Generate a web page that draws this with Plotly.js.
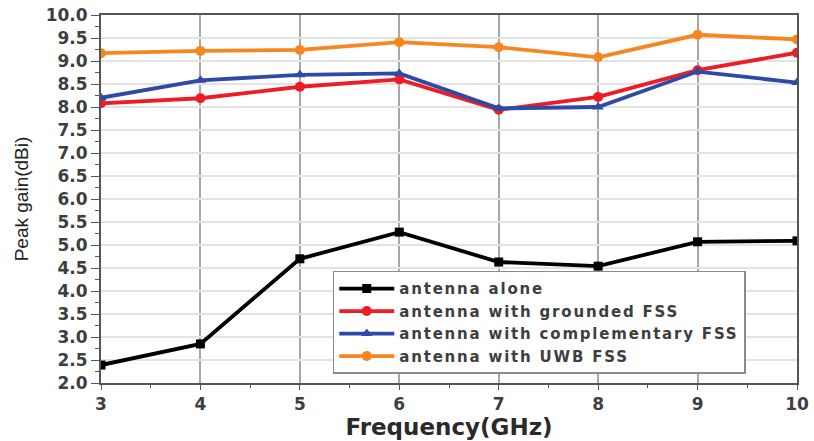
<!DOCTYPE html>
<html><head><meta charset="utf-8">
<script src="https://cdn.plot.ly/plotly-3.0.1.min.js"></script>
<style>body{margin:0;padding:0;background:#fff}#chart{width:814px;height:441px}
.legendtext{letter-spacing:1.8px}</style>
</head><body><div id="chart"></div>
<script>
const freq = [3, 4, 5, 6, 7, 8, 9, 10];
const alone = [2.39, 2.85, 4.70, 5.28, 4.63, 4.54, 5.07, 5.09];
const grounded = [8.08, 8.19, 8.44, 8.60, 7.94, 8.22, 8.80, 9.18];
const complementary = [8.20, 8.58, 8.70, 8.73, 7.97, 8.00, 8.77, 8.53];
const uwb = [9.17, 9.22, 9.24, 9.41, 9.30, 9.08, 9.57, 9.47];
const names = ['antenna alone', 'antenna with grounded FSS', 'antenna with complementary FSS', 'antenna with UWB FSS'];
const yTicks = [2.0,2.5,3.0,3.5,4.0,4.5,5.0,5.5,6.0,6.5,7.0,7.5,8.0,8.5,9.0,9.5,10.0];

function tr(y, name, color, symbol, size){
  return {x: freq, y: y, name: name, type:'scatter', mode:'lines+markers',
    line:{color:color, width:3.8}, marker:{color:color, symbol:symbol, size:size}};
}
const data = [
  tr(alone, names[0], '#000000', 'square', 9),
  tr(grounded, names[1], '#ee1c25', 'circle', 10),
  tr(complementary, names[2], '#2e4aa8', 'triangle-up', 10),
  tr(uwb, names[3], '#f7861f', 'circle', 10)
];
const fam = '"DejaVu Sans", sans-serif';
const txt = '#3e3e3e';
const layout = {
  width:814, height:441,
  margin:{l:101, r:17, t:15, b:58},
  paper_bgcolor:'#fff', plot_bgcolor:'#fff',
  font: {family:fam, color:txt},
  showlegend:true,
  legend:{x:0.333, y:0.025, xanchor:'left', yanchor:'bottom', bgcolor:'#fff',
    bordercolor:'#8a8a8a', borderwidth:1.5, font:{family:fam, size:15, weight:'bold', color:txt},
    tracegroupgap:0, itemwidth:55},
  xaxis:{range:[3,10], tickvals:freq, ticktext:freq.map(String), showline:true, mirror:true,
    linecolor:'#555', linewidth:2, ticks:'outside', ticklen:5, tickcolor:'#555',
    showgrid:true, gridcolor:'#a8a8a8', gridwidth:2, zeroline:false,
    tickfont:{family:fam, size:17, weight:'bold', color:txt},
    minor:{dtick:0.5, tick0:3, ticks:'outside', ticklen:3, tickcolor:'#555', showgrid:false},
    title:{text:'Frequency(GHz)', font:{family:fam, size:23, weight:'bold', color:'#2a2a2a'}, standoff:4}},
  yaxis:{range:[2,10], tickvals:yTicks, ticktext:yTicks.map(v=>v.toFixed(1)), showline:true, mirror:true,
    linecolor:'#555', linewidth:2, ticks:'outside', ticklen:8, tickcolor:'#555',
    showgrid:true, gridcolor:'#e3e3e3', gridwidth:2.5, zeroline:false,
    tickfont:{family:fam, size:17, weight:'bold', color:txt},
    minor:{dtick:0.25, tick0:2, ticks:'outside', ticklen:4, tickcolor:'#555', showgrid:false},
    title:{text:'Peak gain(dBi)', font:{family:'"Liberation Sans", Arial, sans-serif', size:19, color:'#222'}, standoff:12}}
};
Plotly.newPlot('chart', data, layout, {displayModeBar:false, staticPlot:true});
</script></body></html>
